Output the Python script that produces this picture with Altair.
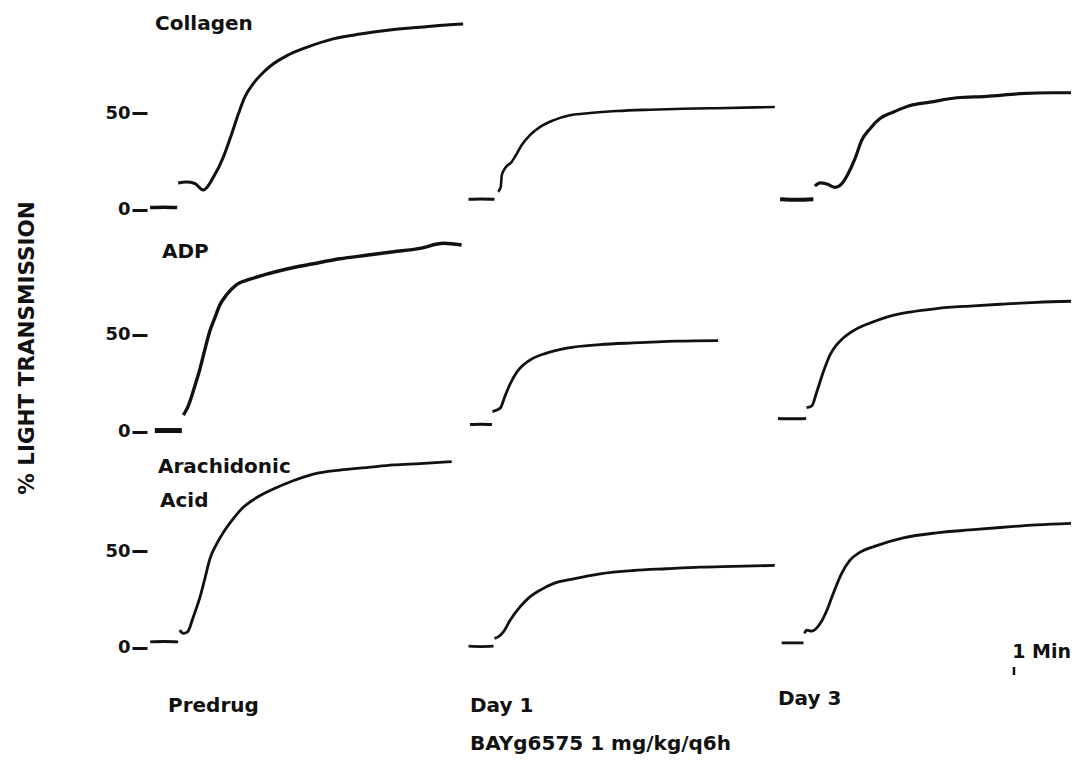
import altair as alt
import pandas as pd

# ---------------- data (time in minutes from trace-panel start, % light transmission) -------------
PERIODS = ["Predrug", "Day 1", "Day 3"]
AGONIST_LABELS = [["Collagen"], ["ADP"], ["Arachidonic", "Acid"]]
Y_TICKS = [0, 50]
BOTTOM_TITLE = "BAYg6575 1 mg/kg/q6h"
Y_TITLE = "% LIGHT TRANSMISSION"
SCALE_LABEL = "1 Min"

# Collagen
COL_PRE_BASE_T = [0.06, 0.32, 0.58]
COL_PRE_BASE_Y = [1.0, 1.2, 1.0]
COL_PRE_T = [0.60, 0.75, 0.92, 1.08, 1.28, 1.47, 1.63, 1.76, 1.88, 2.04, 2.24, 2.43, 2.69,
             3.07, 3.58, 4.10, 4.67, 5.25, 5.76, 6.08]
COL_PRE_Y = [13.7, 14.2, 13.5, 10.1, 16.9, 27.3, 39.3, 49.7, 58.2, 65.1, 71.1, 75.5, 79.7,
             84.0, 88.4, 90.9, 93.0, 94.4, 95.6, 96.1]

COL_D1_BASE_T = [0.01, 0.26, 0.51]
COL_D1_BASE_Y = [5.3, 5.5, 5.3]
COL_D1_T = [0.58, 0.63, 0.65, 0.71, 0.84, 0.94, 1.03, 1.19, 1.38, 1.64, 1.96, 2.35, 2.86,
            3.50, 4.14, 4.78, 5.90]
COL_D1_Y = [9.2, 11.8, 17.8, 21.3, 24.7, 29.0, 33.3, 38.5, 42.7, 46.2, 48.8, 50.0, 51.0,
            51.7, 52.2, 52.5, 53.1]

COL_D3_BASE_T = [0.04, 0.36, 0.68]
COL_D3_BASE_Y = [5.3, 5.0, 5.3]
COL_D3_T = [0.71, 0.81, 0.94, 1.10, 1.23, 1.35, 1.48, 1.61, 1.77, 1.96, 2.22, 2.54, 2.92,
            3.44, 4.01, 4.65, 5.29, 5.80]
COL_D3_Y = [12.1, 13.8, 13.2, 11.5, 13.5, 18.7, 26.4, 35.9, 41.9, 47.1, 50.5, 53.9, 55.6,
            57.9, 58.6, 60.0, 60.5, 60.5]

# ADP
ADP_PRE_BASE_T = [0.15, 0.41, 0.67]
ADP_PRE_BASE_Y = [0.5, 0.5, 0.5]
ADP_PRE_T = [0.70, 0.79, 0.92, 1.02, 1.12, 1.21, 1.31, 1.40, 1.53, 1.73, 1.98, 2.30, 2.69,
             3.20, 3.71, 4.22, 4.74, 5.25, 5.70, 6.05]
ADP_PRE_Y = [8.5, 13.0, 23.6, 32.6, 43.2, 52.2, 59.3, 65.5, 70.8, 76.2, 78.9, 81.5, 84.2,
             86.9, 89.5, 91.3, 93.1, 94.9, 97.5, 96.6]

ADP_D1_BASE_T = [0.04, 0.25, 0.46]
ADP_D1_BASE_Y = [3.6, 3.8, 3.6]
ADP_D1_T = [0.47, 0.62, 0.71, 0.81, 0.94, 1.19, 1.51, 1.90, 2.54, 3.17, 4.01, 4.81]
ADP_D1_Y = [10.3, 12.1, 18.3, 24.6, 30.8, 37.0, 40.6, 43.2, 45.0, 45.9, 46.8, 47.1]

ADP_D3_BASE_T = [0.0, 0.27, 0.54]
ADP_D3_BASE_Y = [6.8, 6.6, 6.8]
ADP_D3_T = [0.55, 0.65, 0.74, 0.87, 1.00, 1.13, 1.26, 1.45, 1.77, 2.09, 2.54, 3.05, 3.69,
            4.33, 4.97, 5.80]
ADP_D3_Y = [12.4, 13.3, 20.1, 30.8, 39.7, 45.0, 48.6, 52.2, 56.2, 59.3, 61.9, 63.7, 65.0,
            66.0, 66.9, 67.6]

# Arachidonic acid
AA_PRE_BASE_T = [0.06, 0.33, 0.60]
AA_PRE_BASE_Y = [3.0, 3.2, 3.0]
AA_PRE_T = [0.63, 0.70, 0.78, 0.89, 1.02, 1.12, 1.21, 1.34, 1.47, 1.63, 1.85, 2.11, 2.43,
            2.81, 3.20, 3.71, 4.22, 4.74, 5.25, 5.86]
AA_PRE_Y = [9.1, 7.4, 8.2, 15.9, 26.3, 36.6, 46.1, 53.8, 59.8, 65.8, 72.7, 77.8, 82.2,
            86.5, 89.9, 92.0, 93.3, 94.7, 95.4, 96.4]

AA_D1_BASE_T = [0.01, 0.25, 0.49]
AA_D1_BASE_Y = [0.8, 0.6, 0.8]
AA_D1_T = [0.51, 0.58, 0.68, 0.81, 1.00, 1.19, 1.38, 1.64, 2.03, 2.54, 3.18, 3.82, 4.46,
           5.10, 5.90]
AA_D1_Y = [4.8, 5.6, 8.2, 14.2, 21.1, 26.3, 29.7, 33.2, 35.7, 38.3, 40.0, 40.9, 41.7,
           42.1, 42.6]

AA_D3_BASE_T = [0.07, 0.28, 0.49]
AA_D3_BASE_Y = [2.5, 2.5, 2.5]
AA_D3_T = [0.51, 0.55, 0.65, 0.81, 0.94, 1.06, 1.22, 1.38, 1.58, 1.90, 2.41, 3.05, 3.69,
           4.33, 4.97, 5.80]
AA_D3_Y = [7.4, 9.1, 8.6, 12.5, 19.4, 28.0, 38.3, 45.2, 49.5, 52.9, 56.9, 59.5, 61.0,
           62.4, 63.6, 64.6]

TRACES = [
    [(COL_PRE_BASE_T, COL_PRE_BASE_Y, COL_PRE_T, COL_PRE_Y),
     (COL_D1_BASE_T, COL_D1_BASE_Y, COL_D1_T, COL_D1_Y),
     (COL_D3_BASE_T, COL_D3_BASE_Y, COL_D3_T, COL_D3_Y)],
    [(ADP_PRE_BASE_T, ADP_PRE_BASE_Y, ADP_PRE_T, ADP_PRE_Y),
     (ADP_D1_BASE_T, ADP_D1_BASE_Y, ADP_D1_T, ADP_D1_Y),
     (ADP_D3_BASE_T, ADP_D3_BASE_Y, ADP_D3_T, ADP_D3_Y)],
    [(AA_PRE_BASE_T, AA_PRE_BASE_Y, AA_PRE_T, AA_PRE_Y),
     (AA_D1_BASE_T, AA_D1_BASE_Y, AA_D1_T, AA_D1_Y),
     (AA_D3_BASE_T, AA_D3_BASE_Y, AA_D3_T, AA_D3_Y)],
]

# ---------------- layout / style ----------------
# small-multiple layout inside one set of scales: each panel is shifted by a
# column offset (minutes) and a row offset (percent units)
COL_OFFSETS = [0.0, 6.173, 12.135]
ROW_OFFSETS = [227, 112, 0]
PLOT_W, PLOT_H = 924, 659
X_DOMAIN = [0, PLOT_W / 52]
Y_DOMAIN = [-10, 331.4]
TRACE_STROKES = [[3.0, 2.6, 3.2], [3.4, 2.8, 2.8], [2.8, 2.8, 2.8]]
BASE_STROKES = [[3.5, 3.0, 4.0], [5.0, 3.0, 3.0], [2.8, 2.8, 2.8]]
FONT = "DejaVu Sans"
INK = "#111111"
LABEL_POS = [[(8, 22)], [(15, 250)], [(11, 465), (13, 499)]]
PERIOD_POS = [(21, 704), (323, 704), (631, 697)]

frames = []
for r in range(3):
    for c in range(3):
        bt, by, tt, ty = TRACES[r][c]
        for seg, ts, ys, w in (("base", bt, by, BASE_STROKES[r][c]),
                               ("trace", tt, ty, TRACE_STROKES[r][c])):
            frames.append(pd.DataFrame({
                "x": [COL_OFFSETS[c] + t for t in ts],
                "y": [ROW_OFFSETS[r] + v for v in ys],
                "key": f"{r}-{c}-{seg}",
                "w": w,
            }))
df = pd.concat(frames, ignore_index=True)

tick_values = [ro + v for ro in ROW_OFFSETS for v in Y_TICKS]
zero_list = ",".join(str(ro) for ro in ROW_OFFSETS)

yaxis = alt.Axis(values=tick_values, title=None, domain=False, grid=False,
                 ticks=True, tickSize=15, tickWidth=3, tickColor=INK,
                 labelFont=FONT, labelFontWeight="bold", labelFontSize=18,
                 labelColor=INK, labelPadding=2,
                 labelExpr=f"indexof([{zero_list}], datum.value) >= 0 ? '0' : '50'")

lines = alt.Chart(df).mark_line(color=INK, interpolate="monotone", clip=True).encode(
    x=alt.X("x:Q", scale=alt.Scale(domain=X_DOMAIN, nice=False, zero=False), axis=None),
    y=alt.Y("y:Q", scale=alt.Scale(domain=Y_DOMAIN, nice=False, zero=False), axis=yaxis),
    detail="key:N",
    order="x:Q",
    strokeWidth=alt.StrokeWidth("w:Q", scale=None, legend=None),
)


def text_layer(label, x, y, size=20, align="left", angle=0, baseline="alphabetic"):
    return alt.Chart(pd.DataFrame({"label": [label]})).mark_text(
        font=FONT, fontSize=size, fontWeight="bold", color=INK, align=align,
        baseline=baseline, angle=angle
    ).encode(text="label:N", x=alt.value(x), y=alt.value(y))


layers = [lines]
for r in range(3):
    for lab, (lx, ly) in zip(AGONIST_LABELS[r], LABEL_POS[r]):
        layers.append(text_layer(lab, lx, ly))
for lab, (px, py) in zip(PERIODS, PERIOD_POS):
    layers.append(text_layer(lab, px, py))
layers.append(text_layer(BOTTOM_TITLE, 323, 742))
layers.append(text_layer(SCALE_LABEL, 924, 650, size=19, align="right"))
layers.append(text_layer(Y_TITLE, -119, 340, size=21.5, align="center", angle=270,
                         baseline="middle"))
layers.append(
    alt.Chart(pd.DataFrame({"k": [0]})).mark_rule(color=INK, strokeWidth=2.5)
    .encode(x=alt.value(867), y=alt.value(659), y2=alt.value(667))
)

chart = alt.layer(*layers).properties(
    width=PLOT_W, height=PLOT_H,
    autosize=alt.AutoSizeParams(type="none"),
    padding={"left": 139, "top": 0, "right": 2, "bottom": 88},
    background="white",
).configure_view(strokeWidth=0)

chart.save("out.html", embed_options={"renderer": "svg", "actions": False})
